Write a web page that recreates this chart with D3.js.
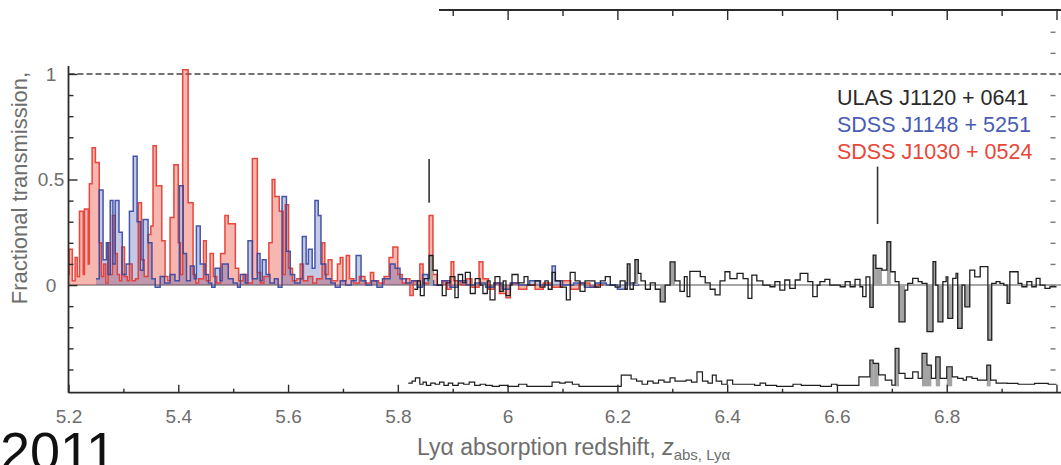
<!DOCTYPE html>
<html>
<head>
<meta charset="utf-8">
<script src="https://cdn.jsdelivr.net/npm/d3@7"></script>
<style>
  html, body { margin: 0; padding: 0; background: #fff; }
  svg { display: block; font-family: "Liberation Sans", Arial, Helvetica, sans-serif; }
</style>
</head>
<body>
<svg id="chart" width="1061" height="465"></svg>
<script>
// Fractional transmission vs Ly-alpha absorption redshift, [z bin start, value]

// SDSS J1030+0524 (red)
const redSpectrum = [
  [5.200, 0.05], [5.201, 0.17], [5.207, 0.02], [5.212, 0.13], [5.216, 0.04], [5.220, 0.35],
  [5.227, 0.05], [5.229, 0.36], [5.236, 0.10], [5.238, 0.48], [5.243, 0.65], [5.249, 0.58],
  [5.256, 0.20], [5.260, 0.04], [5.264, 0.10], [5.268, 0.01], [5.272, 0.20], [5.276, 0.05],
  [5.280, 0.33], [5.285, 0.15], [5.289, 0.05], [5.293, 0.02], [5.297, 0.18], [5.302, 0.04],
  [5.307, 0.02], [5.311, 0.10], [5.316, 0.02], [5.322, 0.03], [5.327, 0.39], [5.333, 0.12],
  [5.338, 0.04], [5.345, 0.24], [5.350, 0.28], [5.354, 0.66], [5.360, 0.47], [5.366, 0.47],
  [5.370, 0.21], [5.376, 0.04], [5.381, 0.02], [5.385, 0.32], [5.392, 0.57], [5.400, 0.20],
  [5.404, 0.05], [5.408, 1.02], [5.418, 0.39], [5.427, 0.05], [5.432, 0.01], [5.437, 0.03],
  [5.446, 0.21], [5.451, 0.02], [5.458, 0.15], [5.464, 0.04], [5.470, 0.01], [5.477, 0.15],
  [5.485, 0.33], [5.491, 0.29], [5.504, 0.08], [5.510, 0.02], [5.518, 0.05], [5.525, 0.01],
  [5.535, 0.60], [5.544, 0.06], [5.550, 0.01], [5.556, 0.04], [5.565, 0.20], [5.571, 0.50],
  [5.576, 0.42], [5.584, 0.35], [5.591, 0.05], [5.595, 0.38], [5.601, 0.08], [5.608, 0.02],
  [5.616, 0.03], [5.622, 0.10], [5.628, 0.02], [5.636, 0.04], [5.645, 0.01], [5.652, 0.03],
  [5.662, 0.20], [5.667, 0.05], [5.673, 0.12], [5.680, 0.02], [5.690, 0.10], [5.695, 0.13],
  [5.700, 0.02], [5.706, 0.14], [5.712, 0.03], [5.720, 0.01], [5.730, 0.04], [5.740, 0.01],
  [5.750, 0.06], [5.756, 0.02], [5.765, 0.01], [5.775, 0.04], [5.784, 0.13], [5.791, 0.18],
  [5.800, 0.05], [5.808, 0.01], [5.815, 0.03], [5.822, -0.05], [5.828, 0.02], [5.840, 0.10],
  [5.846, 0.01], [5.857, 0.33], [5.864, 0.05], [5.872, 0.00], [5.882, 0.02], [5.890, -0.02],
  [5.897, 0.11], [5.902, 0.02], [5.915, 0.00], [5.925, 0.03], [5.935, -0.01], [5.948, 0.11],
  [5.955, 0.03], [5.965, -0.02], [5.975, 0.01], [5.985, -0.04], [5.997, -0.06], [6.005, 0.01],
  [6.020, -0.02], [6.035, 0.00], [6.050, -0.02], [6.065, 0.01], [6.080, -0.01], [6.100, 0.02],
  [6.115, -0.02], [6.130, 0.01], [6.150, -0.01], [6.165, 0.00]
];
const redEnd = 6.175;

// SDSS J1148+5251 (blue)
const blueSpectrum = [
  [5.250, 0.03], [5.256, 0.45], [5.263, 0.12], [5.269, 0.20], [5.272, 0.05], [5.276, 0.40],
  [5.281, 0.10], [5.285, 0.40], [5.292, 0.25], [5.298, 0.05], [5.305, 0.10], [5.311, 0.35],
  [5.318, 0.61], [5.325, 0.30], [5.331, 0.07], [5.336, 0.31], [5.345, 0.20], [5.352, 0.03],
  [5.358, -0.01], [5.367, 0.04], [5.375, 0.01], [5.385, 0.05], [5.394, 0.02], [5.402, 0.47],
  [5.409, 0.15], [5.415, 0.02], [5.422, 0.09], [5.429, 0.03], [5.433, 0.28], [5.440, 0.10],
  [5.449, 0.05], [5.455, 0.01], [5.461, -0.01], [5.467, 0.08], [5.476, 0.02], [5.480, 0.10],
  [5.491, 0.03], [5.500, 0.01], [5.508, -0.01], [5.513, 0.05], [5.522, 0.01], [5.527, 0.21],
  [5.535, 0.03], [5.544, 0.15], [5.549, 0.02], [5.553, 0.12], [5.560, 0.05], [5.567, 0.01],
  [5.575, 0.03], [5.582, -0.01], [5.589, 0.42], [5.597, 0.16], [5.604, 0.05], [5.612, 0.01],
  [5.622, 0.03], [5.626, 0.23], [5.633, 0.10], [5.637, 0.17], [5.644, 0.08], [5.649, 0.40],
  [5.655, 0.33], [5.660, 0.10], [5.669, 0.03], [5.678, 0.01], [5.686, -0.01], [5.695, 0.02],
  [5.705, 0.00], [5.715, 0.02], [5.724, 0.14], [5.733, 0.02], [5.742, 0.00], [5.752, 0.02],
  [5.762, -0.01], [5.772, 0.03], [5.786, 0.10], [5.795, 0.08], [5.804, 0.03], [5.815, 0.01],
  [5.825, 0.02], [5.835, -0.01], [5.845, 0.05], [5.855, 0.02], [5.865, 0.00], [5.880, 0.02],
  [5.895, -0.01], [5.910, 0.02], [5.925, 0.00], [5.940, 0.01], [5.960, -0.01], [5.975, 0.01],
  [5.990, -0.02], [6.005, 0.01], [6.020, 0.00], [6.040, 0.02], [6.060, 0.00], [6.081, 0.09],
  [6.087, 0.02], [6.100, 0.00], [6.120, 0.01], [6.140, -0.01], [6.160, 0.01], [6.180, 0.00],
  [6.200, -0.02], [6.215, 0.01], [6.230, 0.00]
];
const blueEnd = 6.24;

// ULAS J1120+0641 (black)
const blackSpectrum = [
  [5.830, -0.02], [5.836, 0.02], [5.841, -0.05], [5.848, 0.03], [5.857, 0.14], [5.864, 0.07],
  [5.872, 0.00], [5.881, -0.05], [5.888, 0.01], [5.895, 0.04], [5.904, -0.06], [5.910, 0.05],
  [5.918, 0.01], [5.923, 0.06], [5.932, -0.04], [5.941, 0.03], [5.950, 0.00], [5.955, -0.04],
  [5.963, 0.02], [5.968, -0.07], [5.977, 0.04], [5.986, -0.03], [5.992, 0.02], [5.997, -0.05],
  [6.005, 0.00], [6.008, 0.05], [6.019, 0.01], [6.030, 0.04], [6.037, 0.00], [6.050, 0.02],
  [6.059, -0.01], [6.068, 0.02], [6.074, -0.02], [6.081, 0.06], [6.087, 0.02], [6.096, -0.01],
  [6.107, -0.07], [6.114, 0.06], [6.123, 0.02], [6.132, -0.03], [6.141, 0.02], [6.159, -0.01],
  [6.169, 0.02], [6.178, 0.04], [6.187, 0.00], [6.196, -0.01], [6.205, 0.02], [6.214, -0.02],
  [6.218, 0.10], [6.223, -0.02], [6.229, 0.01], [6.232, 0.12], [6.238, 0.055], [6.243, 0.02],
  [6.251, -0.02], [6.260, 0.01], [6.269, -0.02], [6.278, -0.08], [6.287, 0.00], [6.296, 0.11],
  [6.305, 0.02], [6.314, -0.03], [6.322, 0.04], [6.327, -0.055], [6.332, 0.065], [6.351, 0.04],
  [6.360, 0.01], [6.369, -0.02], [6.378, -0.047], [6.387, 0.02], [6.396, 0.063], [6.405, 0.03],
  [6.418, 0.055], [6.429, 0.03], [6.438, -0.063], [6.445, 0.047], [6.454, 0.02], [6.465, 0.00],
  [6.478, -0.008], [6.487, 0.016], [6.496, -0.024], [6.505, 0.024], [6.514, -0.016], [6.524, 0.024],
  [6.533, 0.055], [6.547, 0.016], [6.556, -0.055], [6.564, 0.00], [6.569, 0.016], [6.578, 0.027],
  [6.587, 0.00], [6.606, -0.008], [6.615, 0.016], [6.624, -0.008], [6.633, 0.027], [6.642, -0.008],
  [6.647, -0.055], [6.653, 0.039], [6.660, -0.106], [6.666, 0.142], [6.671, 0.079], [6.682, 0.071],
  [6.691, 0.205], [6.698, 0.063], [6.706, 0.016], [6.713, -0.174], [6.724, -0.024], [6.729, 0.008],
  [6.738, 0.032], [6.748, 0.016], [6.755, 0.008], [6.764, -0.221], [6.775, 0.111], [6.780, 0.00],
  [6.784, -0.174], [6.793, 0.016], [6.799, 0.039], [6.802, -0.158], [6.811, 0.032], [6.817, 0.055],
  [6.820, -0.205], [6.828, 0.00], [6.833, -0.103], [6.842, 0.071], [6.851, 0.039], [6.861, 0.087],
  [6.875, -0.261], [6.882, 0.008], [6.890, 0.016], [6.897, 0.008], [6.904, 0.00], [6.910, -0.087],
  [6.915, 0.063], [6.930, 0.008], [6.937, -0.008], [6.946, 0.016], [6.955, -0.008], [6.963, 0.032],
  [6.970, 0.00], [6.979, -0.016], [6.988, -0.008]
];
const blackEnd = 7.0;

// ULAS J1120+0641 noise (sigma), drawn shifted down by errOffset
const blackNoise = [
  [5.819, 0.035], [5.826, 0.045], [5.832, 0.06], [5.840, 0.03], [5.846, 0.04], [5.852, 0.025],
  [5.860, 0.035], [5.868, 0.03], [5.876, 0.04], [5.884, 0.025], [5.892, 0.035], [5.900, 0.025],
  [5.910, 0.035], [5.920, 0.03], [5.930, 0.04], [5.940, 0.025], [5.950, 0.03], [5.960, 0.025],
  [5.972, 0.02], [5.985, 0.025], [6.000, 0.02], [6.020, 0.03], [6.035, 0.02], [6.081, 0.04],
  [6.095, 0.035], [6.105, 0.04], [6.118, 0.03], [6.130, 0.02], [6.207, 0.073], [6.225, 0.055],
  [6.235, 0.045], [6.245, 0.03], [6.255, 0.045], [6.265, 0.035], [6.275, 0.05], [6.285, 0.04],
  [6.296, 0.06], [6.305, 0.045], [6.325, 0.05], [6.335, 0.04], [6.345, 0.089], [6.355, 0.045],
  [6.365, 0.035], [6.373, 0.073], [6.380, 0.045], [6.390, 0.03], [6.400, 0.05], [6.410, 0.03],
  [6.430, 0.03], [6.450, 0.025], [6.460, 0.035], [6.470, 0.025], [6.490, 0.02], [6.520, 0.03],
  [6.535, 0.025], [6.570, 0.02], [6.590, 0.03], [6.600, 0.025], [6.640, 0.065], [6.653, 0.065],
  [6.660, 0.145], [6.666, 0.129], [6.676, 0.074], [6.688, 0.05], [6.700, 0.026], [6.706, 0.20],
  [6.713, 0.082], [6.724, 0.058], [6.738, 0.089], [6.748, 0.058], [6.755, 0.176], [6.764, 0.121],
  [6.772, 0.058], [6.780, 0.16], [6.788, 0.058], [6.800, 0.113], [6.810, 0.065], [6.820, 0.058],
  [6.830, 0.05], [6.836, 0.065], [6.846, 0.058], [6.856, 0.05], [6.873, 0.121], [6.880, 0.05],
  [6.890, 0.035], [6.910, 0.034], [6.930, 0.03], [6.960, 0.034], [6.985, 0.03]
];
const noiseEnd = 7.0;
const errOffset = -0.5;

// vertical marker lines above spectra
const markerZ = [5.857, 6.674];
const markerTop = [0.597, 0.561];
const markerBottom = [0.39, 0.289];

// axes
const xMajorTicks = [5.2, 5.4, 5.6, 5.8, 6.0, 6.2, 6.4, 6.6, 6.8, 7.0];
const xMinorTicks = [5.3, 5.5, 5.7, 5.9, 6.1, 6.3, 6.5, 6.7, 6.9];
const xTickLabels = ["5.2", "5.4", "5.6", "5.8", "6", "6.2", "6.4", "6.6", "6.8", ""];
const yMajorTicks = [0, 0.5, 1];
const yTickLabels = ["0", "0.5", "1"];
const yMinorTicks = [-0.4, -0.3, -0.2, -0.1, 0.1, 0.2, 0.3, 0.4, 0.6, 0.7, 0.8, 0.9];
const yRightTicks = [-0.4, -0.3, -0.2, -0.1, 0, 0.1, 0.2, 0.3, 0.4, 0.5, 0.6, 0.7, 0.8, 0.9, 1.0, 1.1, 1.2];

// legend
const legendLabels = ["ULAS J1120 + 0641", "SDSS J1148 + 5251", "SDSS J1030 + 0524"];
const legendColors = ["#2a2a2a", "#4a5cb4", "#e8473a"];

// ---------------------------------------------------------------------------
const svg = d3.select("#chart");
const W = 1061;

const x = d3.scaleLinear().domain([5.2, 7.0]).range([68.5, 1056.5]);
const y = d3.scaleLinear().domain([-0.51, 1.303]).range([392.7, 10]);

const axisColor = "#2b2b2b";
const labelColor = "#6e6e6e";
const leftAxisTop = 66;   // upper part of left frame is hidden in the figure
const topAxisStart = 439; // top frame only visible to the right of this

const withEnd = (pts, zEnd) => pts.concat([[zEnd, pts[pts.length - 1][1]]]);

const stepLine = (off) => d3.line()
  .curve(d3.curveStepAfter)
  .x(d => x(d[0]))
  .y(d => y(d[1] + off));

const stepArea = d3.area()
  .curve(d3.curveStepAfter)
  .x(d => x(d[0]))
  .y0(y(0))
  .y1(d => y(d[1]));

// bins narrow enough that the outline reads as a filled bar
function narrowBins(pts, zEnd, base, minAbs) {
  const out = [];
  pts.forEach((p, i) => {
    const z1 = i + 1 < pts.length ? pts[i + 1][0] : zEnd;
    if (z1 - p[0] <= 0.0125 && Math.abs(p[1] - base) >= minAbs) {
      out.push({ z0: p[0], z1: z1, v: p[1] });
    }
  });
  return out;
}

// reference lines
svg.append("line")
  .attr("x1", x(5.2)).attr("x2", W)
  .attr("y1", y(1)).attr("y2", y(1))
  .attr("stroke", "#444").attr("stroke-width", 1.5)
  .attr("stroke-dasharray", "6,3");

svg.append("line")
  .attr("x1", x(5.2)).attr("x2", W)
  .attr("y1", y(0)).attr("y2", y(0))
  .attr("stroke", "#8a8a8a").attr("stroke-width", 1.6);

// spectra
const red = withEnd(redSpectrum, redEnd);
const blue = withEnd(blueSpectrum, blueEnd);
const black = withEnd(blackSpectrum, blackEnd);
const noise = withEnd(blackNoise, noiseEnd);

svg.append("path").attr("d", stepArea(red))
  .attr("fill", "#ec4a3c").attr("fill-opacity", 0.4).attr("stroke", "none");
svg.append("path").attr("d", stepArea(blue))
  .attr("fill", "#3a4ea8").attr("fill-opacity", 0.3).attr("stroke", "none");

svg.append("path").attr("d", stepLine(0)(red))
  .attr("fill", "none").attr("stroke", "#e6352b").attr("stroke-width", 1.5)
  .attr("stroke-opacity", 0.9);
svg.append("path").attr("d", stepLine(0)(blue))
  .attr("fill", "none").attr("stroke", "#34469f").attr("stroke-width", 1.5)
  .attr("stroke-opacity", 0.9);

// black spectrum: gray fill for narrow strong bins, then outline
svg.append("g").selectAll("rect")
  .data(narrowBins(blackSpectrum, blackEnd, 0, 0.075))
  .join("rect")
  .attr("x", d => x(d.z0))
  .attr("width", d => x(d.z1) - x(d.z0))
  .attr("y", d => Math.min(y(d.v), y(0)))
  .attr("height", d => Math.abs(y(d.v) - y(0)))
  .attr("fill", "#a3a3a3");

svg.append("path").attr("d", stepLine(0)(black))
  .attr("fill", "none").attr("stroke", "#1e1e1e").attr("stroke-width", 1.3);

// noise spectrum
svg.append("g").selectAll("rect")
  .data(narrowBins(blackNoise, noiseEnd, 0.02, 0.07))
  .join("rect")
  .attr("x", d => x(d.z0))
  .attr("width", d => x(d.z1) - x(d.z0))
  .attr("y", d => y(d.v + errOffset))
  .attr("height", d => y(0.02 + errOffset) - y(d.v + errOffset))
  .attr("fill", "#a3a3a3");

svg.append("path").attr("d", stepLine(errOffset)(noise))
  .attr("fill", "none").attr("stroke", "#1e1e1e").attr("stroke-width", 1.2);

// markers
svg.append("g").selectAll("line")
  .data(markerZ)
  .join("line")
  .attr("x1", d => x(d)).attr("x2", d => x(d))
  .attr("y1", (d, i) => y(markerTop[i]))
  .attr("y2", (d, i) => y(markerBottom[i]))
  .attr("stroke", "#333").attr("stroke-width", 1.6);

// ---------------------------------------------------------------------------
// frame + axes
function styleAxis(g) {
  g.select(".domain").remove();
  g.selectAll(".tick line").attr("stroke", axisColor).attr("stroke-width", 1.4);
  g.selectAll(".tick text").attr("fill", labelColor).attr("font-size", 19);
}

// bottom
svg.append("g").attr("transform", `translate(0,${y(-0.51)})`)
  .call(d3.axisBottom(x).tickValues(xMinorTicks).tickSizeInner(-4).tickSizeOuter(0).tickFormat(""))
  .call(styleAxis);
svg.append("g").attr("transform", `translate(0,${y(-0.51)})`)
  .call(d3.axisBottom(x).tickValues(xMajorTicks).tickSizeInner(-8).tickSizeOuter(0)
    .tickPadding(17).tickFormat((d, i) => xTickLabels[i]))
  .call(styleAxis);
svg.append("line")
  .attr("x1", x(5.2)).attr("x2", W)
  .attr("y1", y(-0.51)).attr("y2", y(-0.51))
  .attr("stroke", axisColor).attr("stroke-width", 1.8);

// top (partly hidden)
const topTicks = xMinorTicks.concat(xMajorTicks).filter(v => x(v) > topAxisStart);
svg.append("g").attr("transform", `translate(0,${y(1.303)})`)
  .call(d3.axisTop(x).tickValues(topTicks.filter(v => xMinorTicks.includes(v)))
    .tickSizeInner(-6).tickSizeOuter(0).tickFormat(""))
  .call(styleAxis);
svg.append("g").attr("transform", `translate(0,${y(1.303)})`)
  .call(d3.axisTop(x).tickValues(topTicks.filter(v => xMajorTicks.includes(v)))
    .tickSizeInner(-10).tickSizeOuter(0).tickFormat(""))
  .call(styleAxis);
svg.append("line")
  .attr("x1", topAxisStart).attr("x2", W)
  .attr("y1", y(1.303)).attr("y2", y(1.303))
  .attr("stroke", axisColor).attr("stroke-width", 1.8);

// left
svg.append("g").attr("transform", `translate(${x(5.2)},0)`)
  .call(d3.axisLeft(y).tickValues(yMinorTicks).tickSizeInner(-5).tickSizeOuter(0).tickFormat(""))
  .call(styleAxis);
svg.append("g").attr("transform", `translate(${x(5.2)},0)`)
  .call(d3.axisLeft(y).tickValues(yMajorTicks).tickSizeInner(-9).tickSizeOuter(0)
    .tickFormat((d, i) => yTickLabels[i]))
  .call(styleAxis)
  .call(g => g.selectAll(".tick text")
    .attr("text-anchor", "middle")
    .attr("x", 51 - x(5.2)));
svg.append("line")
  .attr("x1", x(5.2)).attr("x2", x(5.2))
  .attr("y1", leftAxisTop).attr("y2", y(-0.51))
  .attr("stroke", axisColor).attr("stroke-width", 1.8);

// right (frame line itself falls outside the crop)
svg.append("g").attr("transform", `translate(${x(7.0) - 1},0)`)
  .call(d3.axisRight(y).tickValues(yRightTicks).tickSizeInner(-5).tickSizeOuter(0).tickFormat(""))
  .call(styleAxis)
  .call(g => g.selectAll(".tick line").attr("stroke", "#777"));

// axis titles
svg.append("text")
  .attr("transform", "translate(27,188) rotate(-90)")
  .attr("text-anchor", "middle")
  .attr("font-size", 22)
  .attr("fill", labelColor)
  .text("Fractional transmission,");

const xt = svg.append("text")
  .attr("x", 417).attr("y", 455)
  .attr("font-size", 23)
  .attr("fill", labelColor);
xt.append("tspan").text("Ly\u03b1 absorption redshift, ");
xt.append("tspan").attr("font-style", "italic").text("z");
xt.append("tspan").attr("font-size", 15).attr("dy", 5).text("abs, Ly\u03b1");

// legend
svg.append("g").selectAll("text")
  .data(legendLabels)
  .join("text")
  .attr("x", 837)
  .attr("y", (d, i) => 105 + i * 27)
  .attr("font-size", 21.5)
  .attr("fill", (d, i) => legendColors[i])
  .text(d => d);

// year stamp (cut by the bottom edge, as in the source)
svg.append("text")
  .attr("x", 0).attr("y", 470)
  .attr("font-size", 54)
  .attr("fill", "#111")
  .text("2011");
</script>
</body>
</html>
